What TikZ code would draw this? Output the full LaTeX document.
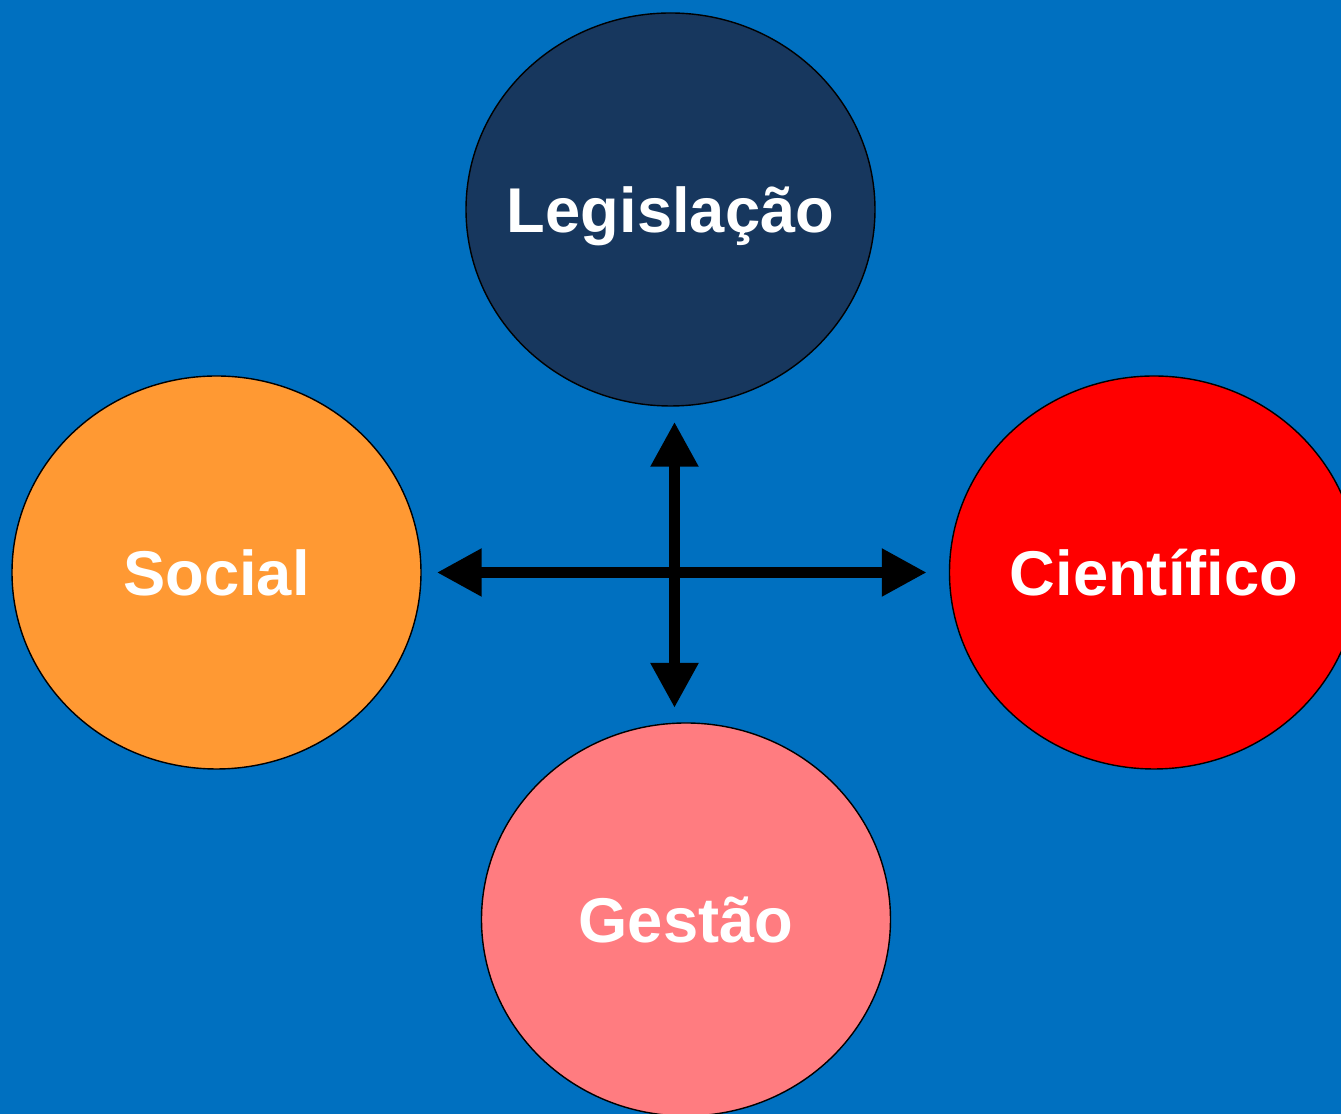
\documentclass[tikz,border=0pt]{standalone}
\usepackage{fontspec}
\setmainfont{Liberation Sans}
\usetikzlibrary{shapes.geometric,arrows.meta}
\definecolor{bgblue}{HTML}{0070C0}
\definecolor{navy}{HTML}{17375E}
\definecolor{laranja}{HTML}{FF9933}
\definecolor{rosa}{HTML}{FF7C80}
\begin{document}
\begin{tikzpicture}[bola/.style={ellipse,draw=black,line width=0.4pt,minimum width=4.09cm,minimum height=3.93cm,inner sep=0pt},
  rotulo/.style={text=white,inner sep=0pt,text height=12.9pt,text depth=0pt,font=\fontsize{18}{20}\selectfont\bfseries},
  seta/.style={line width=0.115cm,{Triangle[length=4.5mm,width=4.5mm]}-{Triangle[length=4.5mm,width=4.5mm]}}]
\useasboundingbox (0,0) rectangle (13.41,11.14);
\fill[bgblue] (0,0) rectangle (13.41,11.14);
\node[bola,fill=navy,label={[rotulo]center:Legislação}] (legis) at (6.705,9.045) {};
\node[bola,fill=laranja,label={[rotulo]center:Social}] (social) at (2.165,5.415) {};
\node[bola,fill=red,label={[rotulo]center:Científico}] (cient) at (11.54,5.415) {};
\node[bola,fill=rosa,label={[rotulo]center:Gestão}] (gestao) at (6.86,1.945) {};
\coordinate (topo) at (6.745,6.923);
\coordinate (baixo) at (6.745,4.06);
\draw[seta] (topo) -- (baixo);
\draw[seta] ([xshift=1.5mm]social.east) -- ([xshift=-2.2mm]cient.west);
\end{tikzpicture}
\end{document}
